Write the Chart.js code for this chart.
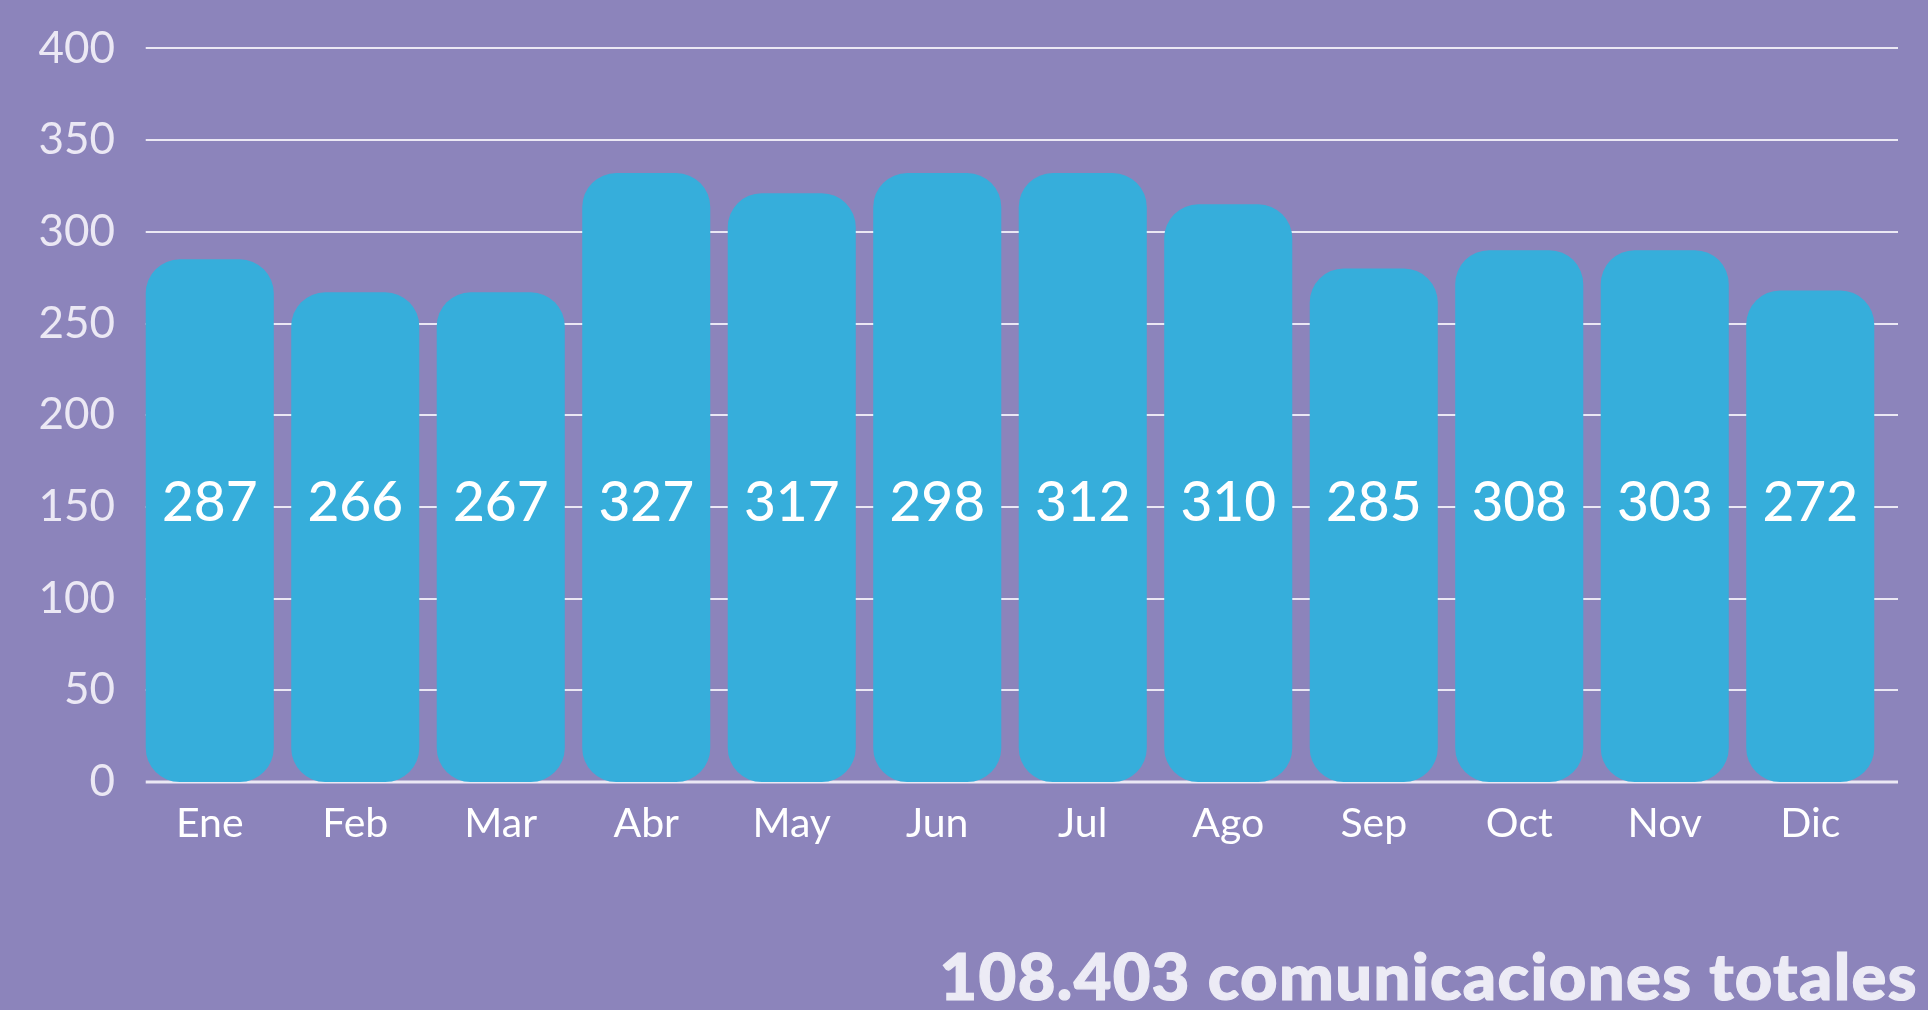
<!DOCTYPE html>
<html>
<head>
<meta charset="utf-8">
<script src="https://cdn.jsdelivr.net/npm/chart.js@4/dist/chart.umd.min.js"></script>
<style>
  html, body { margin: 0; padding: 0; background: #8c84bb; }
  #wrap { position: relative; width: 1928px; height: 1010px; overflow: hidden; }
  #total {
    position: absolute; right: 10px; top: 943px;
    font: 900 65px Lato, "Open Sans", sans-serif; line-height: 64px;
    color: #ecebf5; white-space: nowrap; letter-spacing: 1.4px;
    -webkit-text-stroke: 1.2px #ecebf5;
  }
</style>
</head>
<body>
<div id="wrap">
  <canvas id="bar_Chart"></canvas>
  <div id="total">108.403 comunicaciones totales</div>
</div>
<script>
// meses
const months = ['Ene', 'Feb', 'Mar', 'Abr', 'May', 'Jun', 'Jul', 'Ago', 'Sep', 'Oct', 'Nov', 'Dic'];
// altura de cada barra tal como se ve en el gráfico
const barHeights = [285, 267, 267, 332, 321, 332, 332, 315, 280, 290, 290, 268];
// número escrito dentro de cada barra
const printedValues = [287, 266, 267, 327, 317, 298, 312, 310, 285, 308, 303, 272];
const yTicks = [0, 50, 100, 150, 200, 250, 300, 350, 400];

const labelLevel = 152; // nivel (en unidades del eje) donde van los números

// líneas horizontales: arrancan en el borde de la primera barra y pasan un poco el área
const gridLines = {
  id: 'gridLines',
  beforeDatasetsDraw(chart) {
    const ctx = chart.ctx;
    const ys = chart.scales.y;
    const first = chart.getDatasetMeta(0).data[0];
    const left = first.x - first.width / 2;
    const right = chart.chartArea.right + 15;
    ctx.save();
    ctx.strokeStyle = '#ebe8f4';
    yTicks.forEach(v => {
      const y = Math.round(ys.getPixelForValue(v));
      ctx.lineWidth = v === 0 ? 3 : 2;
      ctx.beginPath();
      ctx.moveTo(left, y);
      ctx.lineTo(right, y);
      ctx.stroke();
    });
    ctx.restore();
  }
};

const valueLabels = {
  id: 'valueLabels',
  afterDatasetsDraw(chart) {
    const ctx = chart.ctx;
    const y = chart.scales.y.getPixelForValue(labelLevel);
    ctx.save();
    ctx.fillStyle = '#ffffff';
    ctx.font = '500 55px Lato, "Open Sans", sans-serif';
    ctx.textAlign = 'center';
    ctx.textBaseline = 'middle';
    chart.getDatasetMeta(0).data.forEach((bar, i) => {
      ctx.fillText(String(printedValues[i]), bar.x, y);
    });
    ctx.restore();
  }
};

const ctx_bar = document.getElementById('bar_Chart').getContext('2d');
const myChartBar = new Chart(ctx_bar, {
  type: 'bar',
  data: {
    labels: months,
    datasets: [{
      data: barHeights,
      backgroundColor: '#36aedb',
      borderWidth: 0,
      borderRadius: 34,
      borderSkipped: false,
      barPercentage: 0.88,
      categoryPercentage: 1
    }]
  },
  options: {
    responsive: true,
    maintainAspectRatio: false,
    animation: false,
    layout: { padding: { top: 48, right: 45, bottom: 0, left: 0 } },
    plugins: {
      legend: { display: false },
      tooltip: { enabled: false }
    },
    scales: {
      y: {
        min: 0,
        max: 400,
        afterBuildTicks: scale => { scale.ticks = yTicks.map(v => ({ value: v })); },
        afterFit: scale => { scale.width = 137; },
        border: { display: false },
        grid: { display: false, drawTicks: false },
        ticks: {
          color: '#ebe8f4',
          padding: 22,
          font: { family: 'Lato, "Open Sans", sans-serif', size: 44 }
        }
      },
      x: {
        afterFit: scale => { scale.height = 228; },
        border: { display: false },
        grid: { display: false, drawTicks: false },
        ticks: {
          color: '#ffffff',
          padding: 17,
          font: { family: 'Lato, "Open Sans", sans-serif', size: 41 }
        }
      }
    }
  },
  plugins: [gridLines, valueLabels]
});
</script>
</body>
</html>
